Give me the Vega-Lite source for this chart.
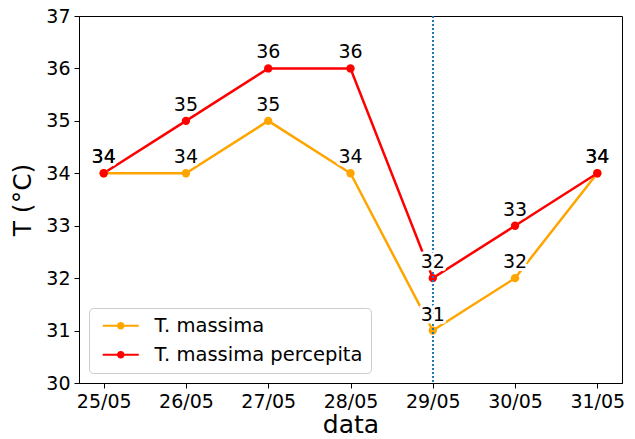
{
  "$schema": "https://vega.github.io/schema/vega-lite/v6.json",
  "width": 543,
  "height": 367,
  "autosize": {"type": "none"},
  "padding": {"left": 79, "top": 16, "right": 13, "bottom": 56},
  "background": "white",
  "config": {
    "font": "DejaVu Sans",
    "view": {"stroke": "black", "strokeWidth": 1},
    "axis": {"grid": false, "domainColor": "black", "tickColor": "black", "labelColor": "black", "titleColor": "black", "labelFontSize": 19, "titleFontSize": 25, "titleFontWeight": "normal", "tickSize": 5, "labelPadding": 4}
  },
  "data": {
    "values": [
      {"data": "25/05", "serie": "T. massima", "T": 34},
      {"data": "26/05", "serie": "T. massima", "T": 34},
      {"data": "27/05", "serie": "T. massima", "T": 35},
      {"data": "28/05", "serie": "T. massima", "T": 34},
      {"data": "29/05", "serie": "T. massima", "T": 31},
      {"data": "30/05", "serie": "T. massima", "T": 32},
      {"data": "31/05", "serie": "T. massima", "T": 34},
      {"data": "25/05", "serie": "T. massima percepita", "T": 34},
      {"data": "26/05", "serie": "T. massima percepita", "T": 35},
      {"data": "27/05", "serie": "T. massima percepita", "T": 36},
      {"data": "28/05", "serie": "T. massima percepita", "T": 36},
      {"data": "29/05", "serie": "T. massima percepita", "T": 32},
      {"data": "30/05", "serie": "T. massima percepita", "T": 33},
      {"data": "31/05", "serie": "T. massima percepita", "T": 34}
    ]
  },
  "encoding": {
    "x": {"field": "data", "type": "ordinal", "sort": null,
      "scale": {"type": "point", "padding": 0.3, "domain": ["25/05", "26/05", "27/05", "28/05", "29/05", "30/05", "31/05"]},
      "axis": {"labelAngle": 0, "title": "data", "titlePadding": 1}},
    "y": {"field": "T", "type": "quantitative", "scale": {"domain": [30, 37], "nice": false, "zero": false},
      "axis": {"values": [30, 31, 32, 33, 34, 35, 36, 37], "title": "T (°C)", "titlePadding": 10}}
  },
  "layer": [
    {
      "mark": {"type": "line", "strokeWidth": 2.5},
      "encoding": {
        "color": {"field": "serie", "type": "nominal",
          "scale": {"domain": ["T. massima", "T. massima percepita"], "range": ["#FFA500", "#FF0000"]},
          "legend": {
            "title": null, "orient": "bottom-left", "offset": 10,
            "labelFontSize": 19.5, "labelColor": "black", "labelFont": "DejaVu Sans", "labelLimit": 0,
            "symbolType": "M-3.6,-0.2L3.6,-0.2L3.6,0.2L-3.6,0.2Z M0.75,0A0.75,0.75 0 1 1 -0.75,0A0.75,0.75 0 1 1 0.75,0Z",
            "symbolSize": 100, "symbolOffset": 14, "labelOffset": 24, "symbolStrokeWidth": 0,
            "rowPadding": 8, "padding": 8, "strokeColor": "#cccccc", "fillColor": "white", "cornerRadius": 4,
            "encode": {"symbols": {"update": {"fill": {"scale": "color", "field": "value"}, "strokeWidth": {"value": 0}, "opacity": {"value": 1}}}}
          }
        }
      }
    },
    {
      "mark": {"type": "point", "filled": true, "size": 70, "opacity": 1},
      "encoding": {"color": {"field": "serie", "type": "nominal", "legend": null}}
    },
    {
      "mark": {"type": "rule", "color": "#1f77b4", "strokeWidth": 1.5, "strokeDash": [1.5, 2.5]},
      "encoding": {"x": {"datum": "29/05"}, "y": {"value": 0}, "y2": {"value": 367}}
    },
    {
      "mark": {"type": "text", "fontSize": 19, "dy": -10, "baseline": "alphabetic", "stroke": "white", "strokeWidth": 6, "fill": "white", "strokeJoin": "round"},
      "encoding": {"text": {"field": "T", "type": "quantitative"}}
    },
    {
      "mark": {"type": "text", "fontSize": 19, "dy": -10, "baseline": "alphabetic", "color": "black"},
      "encoding": {"text": {"field": "T", "type": "quantitative"}}
    }
  ]
}
